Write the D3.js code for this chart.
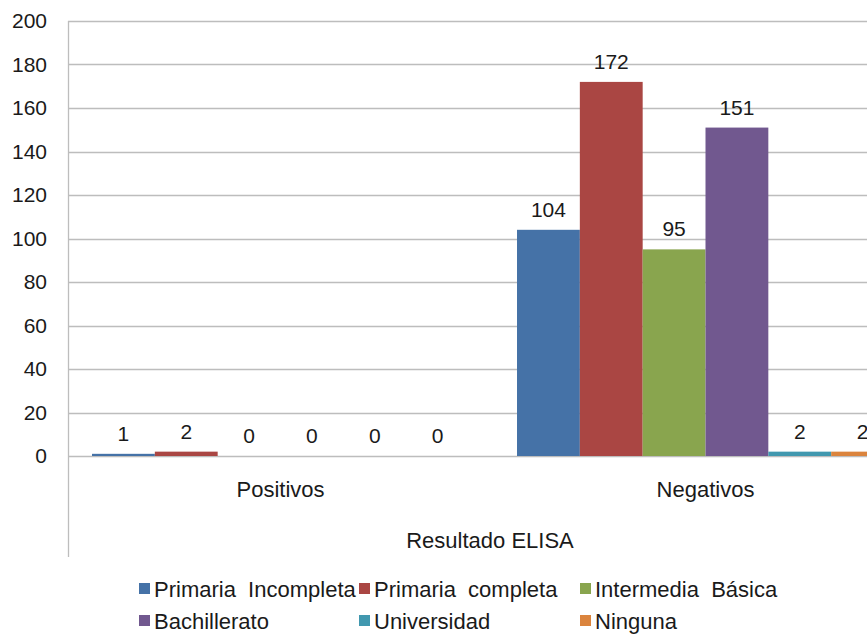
<!DOCTYPE html>
<html>
<head>
<meta charset="utf-8">
<script src="https://cdn.jsdelivr.net/npm/d3@7"></script>
<style>
  body { margin: 0; background: #fff; }
  svg { display: block; overflow: hidden; }
  text { font-family: "Liberation Sans", Arial, sans-serif; fill: #1a1a1a; white-space: pre; }
</style>
</head>
<body>
<div id="chart"></div>
<script>
// categories and series
var categories = ['Positivos', 'Negativos'];
var series = ['Primaria  Incompleta', 'Primaria  completa', 'Intermedia  Básica', 'Bachillerato', 'Universidad', 'Ninguna'];
var colors = ['#4572A7', '#AA4643', '#89A54E', '#71588F', '#4198AF', '#DB843D'];
var positivos = [1, 2, 0, 0, 0, 0];
var negativos = [104, 172, 95, 151, 2, 2];
var yTicks = [0, 20, 40, 60, 80, 100, 120, 140, 160, 180, 200];
var axisTitle = 'Resultado ELISA';

var values = [positivos, negativos];
var width = 867, height = 635;
var plotLeft = 68, plotRight = 918, plotTop = 21, plotBottom = 456;
var tickFont = 21, labelFont = 22;

var svg = d3.select('#chart').append('svg').attr('width', width).attr('height', height);

var y = d3.scaleLinear().domain([0, 200]).range([plotBottom, plotTop]);
var x0 = d3.scaleBand().domain(categories).range([plotLeft, plotRight]).paddingInner(0.113).paddingOuter(0.0565);
var x1 = d3.scaleBand().domain(series).range([0, x0.bandwidth()]);

// gridlines
svg.append('g').selectAll('line').data(yTicks).enter().append('line')
  .attr('x1', plotLeft).attr('x2', plotRight)
  .attr('y1', d => Math.round(y(d)) + 0.5).attr('y2', d => Math.round(y(d)) + 0.5)
  .style('stroke', '#bdbdbd').style('stroke-width', 1.3);

// y axis
var yAxis = d3.axisLeft(y).tickValues(yTicks).tickSize(0).tickPadding(21);
var gy = svg.append('g').attr('transform', 'translate(' + plotLeft + ',0)').call(yAxis);
gy.select('.domain').remove();
gy.selectAll('text').style('font-size', tickFont + 'px').attr('font-family', null).attr('fill', null);
svg.append('line').attr('x1', plotLeft + 0.5).attr('x2', plotLeft + 0.5).attr('y1', plotTop).attr('y2', 557)
  .style('stroke', '#bdbdbd').style('stroke-width', 1.3);

// bars
var groups = svg.append('g').selectAll('g').data(categories).enter().append('g')
  .attr('transform', d => 'translate(' + x0(d) + ',0)');

groups.each(function (cat, ci) {
  var g = d3.select(this);
  var rows = series.map((s, si) => ({ s: s, v: values[ci][si], c: colors[si] }));
  g.selectAll('rect').data(rows).enter().append('rect')
    .attr('x', d => x1(d.s)).attr('width', x1.bandwidth())
    .attr('y', d => y(d.v)).attr('height', d => plotBottom - y(d.v))
    .style('fill', d => d.c);
  g.selectAll('text').data(rows).enter().append('text')
    .attr('x', d => x1(d.s) + x1.bandwidth() / 2)
    .attr('y', d => y(d.v) - 13)
    .attr('text-anchor', 'middle')
    .style('font-size', tickFont + 'px')
    .text(d => d.v);
});

// category labels
svg.append('g').selectAll('text').data(categories).enter().append('text')
  .attr('x', d => x0(d) + x0.bandwidth() / 2).attr('y', 497)
  .attr('text-anchor', 'middle').style('font-size', labelFont + 'px')
  .text(d => d);

svg.append('text').attr('x', (plotLeft + plotRight) / 2 - 3).attr('y', 548)
  .attr('text-anchor', 'middle').style('font-size', labelFont + 'px').text(axisTitle);

// legend
var legendX = [139, 359, 580];
var legendY = [597, 629];
var legend = svg.append('g').selectAll('g').data(series).enter().append('g')
  .attr('transform', (d, i) => 'translate(' + legendX[i % 3] + ',' + legendY[Math.floor(i / 3)] + ')');
legend.append('rect').attr('x', 0).attr('y', -14).attr('width', 11).attr('height', 11)
  .style('fill', (d, i) => colors[i]);
legend.append('text').attr('x', 15).attr('y', 0).style('font-size', labelFont + 'px').text(d => d);
</script>
</body>
</html>
